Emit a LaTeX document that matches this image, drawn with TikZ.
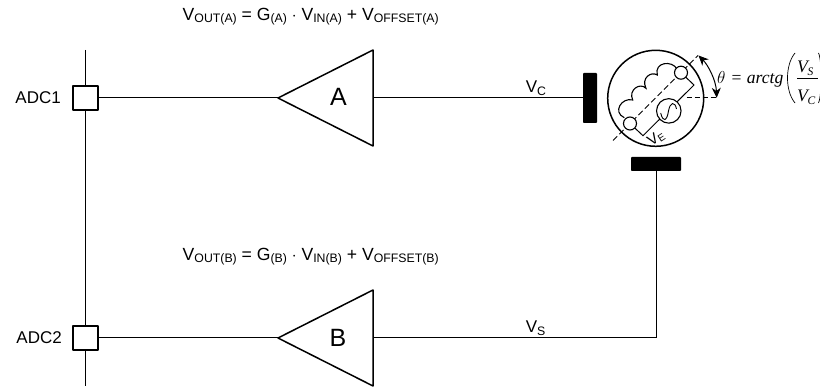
\documentclass[tikz,border=0pt]{standalone}
\usepackage{fontspec}
\setmainfont{Liberation Sans}
\newfontfamily\timesf{Liberation Serif}
\usetikzlibrary{arrows.meta}
\newcommand{\sbs}[1]{\raisebox{-2.5pt}{\fontsize{12.3}{13}\selectfont #1}}
\tikzset{
  x=1pt,y=-1pt,
  wire/.style={line width=1pt},
  heavy/.style={line width=1.5pt,line join=round},
  port/.style={draw,line width=1.8pt,line join=round,fill=white,minimum size=24.5pt,inner sep=0pt},
  bar/.style={fill=black,rounded corners=0.8pt,inner sep=0pt},
  lab/.style={inner sep=0pt,font=\fontsize{17}{19}\selectfont},
  ampname/.style={inner sep=0pt,font=\fontsize{25}{28}\selectfont},
  eqn/.style={inner sep=0pt,anchor=base west,font=\fontsize{17.6}{20}\selectfont},
  sig/.style={inner sep=0pt,anchor=base west,font=\fontsize{17}{19}\selectfont},
  pin/.style={draw,circle,line width=1.1pt,fill=white,minimum size=13pt,inner sep=0pt},
  mathf/.style={inner sep=0pt,anchor=base west,font=\timesf\fontsize{17.6}{20}\selectfont\itshape},
  mathsub/.style={inner sep=0pt,anchor=base west,font=\timesf\fontsize{11.5}{13}\selectfont\itshape},
}
\begin{document}
\begin{tikzpicture}
\useasboundingbox (0,0) rectangle (820,387);
% named points
\coordinate (tipA) at (278,98);
\coordinate (topA) at (373,50);
\coordinate (botA) at (373,146);
\coordinate (backA) at (373,98);
\coordinate (tipB) at (278,338);
\coordinate (topB) at (373,290);
\coordinate (botB) at (373,386);
\coordinate (backB) at (373,338);
\coordinate (busT) at (85.5,50);
\coordinate (busB) at (85.5,386);
\coordinate (corner) at (656,338);
% bus
\draw[wire] (busT) -- (busB);
\node[port] (adc1) at (85.5,98) {};
\node[port] (adc2) at (85.5,338) {};
\node[lab,anchor=base east] (l1) at (61,104) {ADC1};
\node[lab,anchor=base east] (l2) at (62,344) {ADC2};
% amplifiers
\draw[heavy] (tipA) -- (topA) -- (botA) -- cycle;
\draw[heavy] (tipB) -- (topB) -- (botB) -- cycle;
\node[ampname,anchor=base] (a) at (338.5,106) {A};
\node[ampname,anchor=base] (b) at (338,346.5) {B};
% bars
\node[bar,minimum width=14pt,minimum height=50pt] (barC) at (590,98) {};
\node[bar,minimum width=50pt,minimum height=14pt] (barS) at (656,164) {};
% connectors
\draw[wire] (adc1.east) -- (tipA);
\draw[wire] (adc2.east) -- (tipB);
\draw[wire] (backA) -- (barC.west);
\draw[wire] (backB) -- (corner) -- (barS.south);
% equations
\node[eqn] (eqA) at (182.5,20.5) {V\sbs{OUT(A)} = G\sbs{(A)} $\cdot$ V\sbs{IN(A)} + V\sbs{OFFSET(A)}};
\node[eqn] (eqB) at (182.5,260.5) {V\sbs{OUT(B)} = G\sbs{(B)} $\cdot$ V\sbs{IN(B)} + V\sbs{OFFSET(B)}};
\node[sig] (vc) at (525.7,92.7) {V\sbs{C}};
\node[sig] (vs) at (525.7,332.7) {V\sbs{S}};
% resolver
\node[draw,heavy,circle,minimum size=96pt,inner sep=0pt] (rot) at (655.7,98.3) {};
\coordinate (axA) at (613,140.5);
\coordinate (axB) at (698,55.5);
\coordinate (c1) at (630,123.5);
\coordinate (c2) at (681,72.7);
\coordinate (r1) at (643,135.7);
\coordinate (r2) at (694,85);
\draw[line width=0.8pt,dash pattern=on 6pt off 3pt] (axA) -- (axB);
\draw[wire] (c1) -- (r1) -- (r2) -- (c2);
\draw[line width=1.1pt] (677,69) .. controls (672,60) and (654,62) .. (657.3,75)
  .. controls (651,71) and (641,78) .. (646,88.3)
  .. controls (640,82) and (628,90) .. (632.7,100)
  .. controls (622,97) and (612,112) .. (624.3,117.7);
\node[pin] (pin1) at (c1) {};
\node[pin] (pin2) at (c2) {};
\node[pin,minimum size=24.5pt] (src) at (668.8,110.9) {};
\draw[line width=0.9pt] (660.7,113) .. controls (663,123) and (667,121) .. (668.5,111)
  .. controls (670,102) and (675,101) .. (676.5,109);
\node[rotate=33,inner sep=0pt,font=\fontsize{15}{17}\selectfont] (vel) at (656,138) {V\raisebox{-1.5pt}{\fontsize{10}{11}\selectfont E}};
\coordinate (h1) at (686.7,97.8);
\coordinate (h2) at (716.7,97.8);
\draw[line width=1pt,dash pattern=on 5pt off 3pt] (h1) -- (h2);
\draw[line width=1pt,{Stealth[length=10pt,width=9pt]}-{Stealth[length=10pt,width=9pt]}] (698.5,55.5) .. controls (708,65) and (716,80) .. (716.7,97.8);
% formula
\node[mathf] (th) at (717,83.3) {$\theta$};
\node[mathf] (eq) at (731.5,83.3) {\upshape =};
\node[mathf] (arc) at (746.6,83.3) {arctg};
\node[mathf] (vsf) at (797,73) {V};
\node[mathsub] (vsfs) at (807.5,76) {S};
\node[mathf] (vcf) at (797,101.7) {V};
\node[mathsub] (vcfs) at (807.5,104.5) {C};
\coordinate (fl) at (797,78.3);
\coordinate (fr) at (818,78.3);
\draw[line width=0.6pt] (fl) -- (fr);
\draw[line width=0.7pt] (795,53) .. controls (785,65) and (785,91) .. (795,103);
\draw[line width=0.7pt] (818.5,53) .. controls (822,60) and (822,95) .. (818.5,103);
\end{tikzpicture}
\end{document}
